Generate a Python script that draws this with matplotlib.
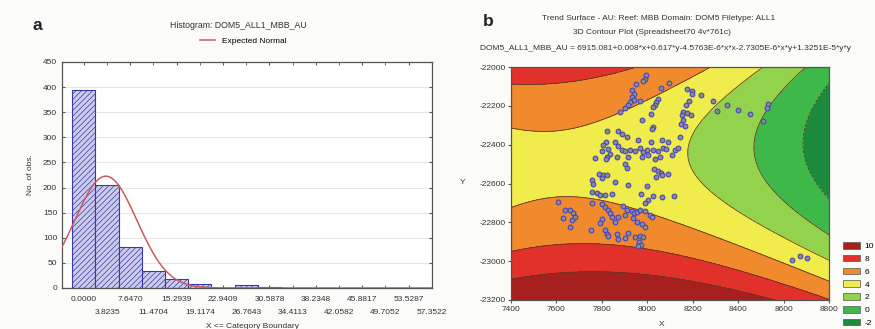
import numpy as np
import matplotlib
matplotlib.use("Agg")
from matplotlib import pyplot as plt
from matplotlib.patches import Patch

plt.rcParams['font.family'] = ['Liberation Sans', 'DejaVu Sans']
plt.rcParams['axes.unicode_minus'] = False
plt.rcParams['hatch.linewidth'] = 0.5


### histogram data (panel a)
bin_width = 3.8235
bin_labels = ['0.0000', '3.8235', '7.6470', '11.4704', '15.2939', '19.1174',
              '22.9409', '26.7643', '30.5878', '34.4113', '38.2348', '42.0582',
              '45.8817', '49.7052', '53.5287', '57.3522']
bin_counts = [394, 205, 81, 33, 18, 8, 0, 5, 2, 0, 0, 0, 0, 0, 0, 0]
normal_mean = 3.63
normal_sd = 5.11

### trend surface (panel b): quadratic in scaled x, y
trend_center = [8000.0, -22500.0, 1000.0]
# const, x, y, x*x, x*y, y*y
trend_coef = [2.85, -3.70, -1.11, -4.58, -2.73, 13.9]
contour_levels = [-2, 0, 2, 4, 6, 8]
legend_labels = ['10', '8', '6', '4', '2', '0', '-2']

### sample locations
pts_x = [7994, 7990, 7982, 7949, 8097, 8060, 7934, 7943, 7931, 7940, 7968, 7924,
         7917, 7902, 7880, 8046, 8038, 8034, 8027, 8016,
         8173, 8195, 8198, 8185, 8169, 8159, 8173, 8193, 8151, 8159, 8149, 8166,
         8237, 8288, 8307, 8350, 8400, 8452, 8533, 8526, 8508,
         7975, 8027, 8022, 7821, 7873, 7887, 7909, 7961, 8016, 8063, 8090, 8144,
         7817, 7807, 7858, 7870, 7826, 7799, 7836, 7821, 7817, 7770, 7865, 7887,
         7902, 7924, 7946, 7968, 7983, 7997, 8027, 8049, 8071, 8081, 8122, 8107,
         8137, 7917, 7975, 8005, 8034, 8056,
         7902, 7909, 8031, 8046, 8060, 8066, 8038, 8093, 7787, 7807, 7821, 7799,
         7758, 7763, 7858, 7917, 7997, 7755, 7777, 7792, 7814, 7846, 7972, 8027,
         8063, 8119, 8005, 7990, 7755, 7799, 7814, 7829, 7895, 7909, 7931, 7943,
         7953, 7968, 7990, 8012, 8022, 7836, 7843, 7799, 7792, 7873, 7902, 7858,
         7939, 7953, 7975, 7990, 7752, 7814, 7821, 7829, 7865, 7873, 7902, 7917,
         7968, 7983, 7964, 7972, 7958, 7946,
         7608, 7638, 7660, 7674, 7630, 7667, 7682, 7660,
         8636, 8673, 8702]
pts_y = [-22043, -22060, -22072, -22085, -22082, -22108, -22120, -22137, -22154, -22168, -22175, -22180,
         -22197, -22211, -22231, -22163, -22180, -22197, -22205, -22240,
         -22111, -22123, -22137, -22175, -22197, -22231, -22236, -22248, -22248, -22271, -22295, -22305,
         -22146, -22177, -22228, -22197, -22223, -22243, -22192, -22213, -22278,
         -22274, -22308, -22320, -22329, -22329, -22343, -22363, -22374, -22386, -22377, -22386, -22360,
         -22386, -22403, -22386, -22408, -22420, -22432, -22446, -22463, -22476, -22471, -22463, -22425,
         -22432, -22425, -22432, -22415, -22437, -22425, -22425, -22432, -22415, -22420, -22428, -22454,
         -22415, -22463, -22466, -22454, -22476, -22463,
         -22500, -22518, -22523, -22535, -22548, -22557, -22569, -22552, -22552, -22557, -22557, -22574,
         -22583, -22600, -22591, -22608, -22614, -22643, -22648, -22660, -22660, -22655, -22655, -22665,
         -22672, -22665, -22686, -22703, -22699, -22706, -22720, -22734, -22716, -22734, -22740, -22754,
         -22746, -22734, -22740, -22763, -22775, -22754, -22771, -22785, -22802, -22775, -22763, -22797,
         -22780, -22797, -22809, -22823, -22840, -22840, -22860, -22871, -22860, -22888, -22883, -22854,
         -22871, -22878, -22900, -22917, -22922, -22874,
         -22694, -22737, -22737, -22754, -22780, -22789, -22771, -22823,
         -22994, -22974, -22986]

band_colors = ['#1c8a3c', '#3fb84a', '#92d24c', '#efec4c', '#f08a2c', '#e2302a', '#a8201e']


fig = plt.figure(figsize=(8.75, 3.29), dpi=100)
fig.patch.set_facecolor('#fbfbf9')

W, H = 875.0, 329.0
def fx(px):
    return px / W
def fy(py):
    return 1 - py / H


# ---------------- panel a : histogram ----------------
ax1 = fig.add_axes([fx(62), fy(288), fx(432) - fx(62), fy(62) - fy(288)])
ax1.set_facecolor('white')
n_bins = len(bin_labels)
centers = np.arange(n_bins) * bin_width
ax1.bar(centers, bin_counts, width=bin_width, facecolor='#cbcbec', edgecolor='#3a3aa6',
        hatch='//////', linewidth=0.8, zorder=2)

xs = np.linspace(-4, 58, 400)
n_total = sum(bin_counts)
curve = n_total * bin_width / (normal_sd * np.sqrt(2 * np.pi)) * np.exp(-0.5 * ((xs - normal_mean) / normal_sd) ** 2)
ax1.plot(xs, curve, color='#d0585a', lw=1.1, zorder=3, label='Expected Normal')

ax1.set_xlim(-3.6, 57.4)
ax1.set_ylim(0, 450)
ax1.set_yticks(np.arange(0, 451, 50))
ax1.yaxis.grid(True, color='#e6e6e6', lw=0.8, zorder=0)
ax1.set_axisbelow(True)

ax1.set_xticks(centers[0::2], bin_labels[0::2])
ax1.set_xticks(centers[1::2], bin_labels[1::2], minor=True)
ax1.tick_params(axis='x', which='major', pad=5.5, labelsize=6, direction='in', length=2,
                top=True, color='#555555', labelcolor='#333333')
ax1.tick_params(axis='x', which='minor', pad=15, labelsize=6, direction='in', length=2,
                top=True, color='#555555', labelcolor='#333333')
ax1.tick_params(axis='y', labelsize=6, direction='in', length=2, right=True,
                color='#555555', labelcolor='#333333')
for s in ax1.spines.values():
    s.set_color('#555555')
    s.set_linewidth(0.9)

ax1.legend(loc='center', bbox_to_anchor=(0.49, 1.094), frameon=False, fontsize=6,
           handlelength=1.8, borderaxespad=0, borderpad=0)

fig.text(fx(238), fy(25), 'Histogram: DOM5_ALL1_MBB_AU', ha='center', va='center',
         fontsize=6.3, color='#333333')
fig.text(fx(30), fy(175), 'No. of obs.', rotation=90, ha='center', va='center',
         fontsize=6, color='#333333')
fig.text(fx(253), fy(327), 'X <= Category Boundary', ha='center', va='center',
         fontsize=6, color='#333333')
fig.text(fx(37), fy(26), 'a', ha='center', va='center', fontsize=12.5,
         fontweight='bold', color='#222222')


# ---------------- panel b : trend surface contour ----------------
ax2 = fig.add_axes([fx(511), fy(300), fx(829) - fx(511), fy(67) - fy(300)])
gx = np.linspace(7400, 8800, 300)
gy = np.linspace(-23200, -22000, 300)
GX, GY = np.meshgrid(gx, gy)
u = (GX - trend_center[0]) / trend_center[2]
v = (GY - trend_center[1]) / trend_center[2]
c = trend_coef
Z = c[0] + c[1] * u + c[2] * v + c[3] * u * u + c[4] * u * v + c[5] * v * v

fill_levels = [-100] + contour_levels + [100]
ax2.contourf(GX, GY, Z, levels=fill_levels, colors=band_colors)
ax2.contour(GX, GY, Z, levels=contour_levels, colors='#5a3c22', linewidths=0.6)

ax2.scatter(pts_x, pts_y, s=12, facecolor='#8c8c90', edgecolor='#3d3dc4', linewidth=0.7, zorder=4)

ax2.set_xlim(7400, 8800)
ax2.set_ylim(-23200, -22000)
ax2.set_xticks(np.arange(7400, 8801, 200))
ax2.set_yticks(np.arange(-23200, -21999, 200))
ax2.tick_params(labelsize=6, length=2, color='#555555', labelcolor='#333333', pad=2)
for s in ax2.spines.values():
    s.set_color('#555555')
    s.set_linewidth(0.9)

fig.text(fx(463), fy(183), 'Y', ha='center', va='center', fontsize=6, color='#333333')
fig.text(fx(662), fy(325), 'X', ha='center', va='center', fontsize=6, color='#333333')
fig.text(fx(659), fy(18), 'Trend Surface - AU: Reef: MBB Domain: DOM5 Filetype: ALL1',
         ha='center', va='center', fontsize=6, color='#333333')
fig.text(fx(652), fy(33), '3D Contour Plot (Spreadsheet70 4v*761c)',
         ha='center', va='center', fontsize=6, color='#333333')
fig.text(fx(665), fy(48),
         'DOM5_ALL1_MBB_AU = 6915.081+0.008*x+0.617*y-4.5763E-6*x*x-2.7305E-6*x*y+1.3251E-5*y*y',
         ha='center', va='center', fontsize=6, color='#333333')
fig.text(fx(488), fy(22), 'b', ha='center', va='center', fontsize=12.5,
         fontweight='bold', color='#222222')

handles = [Patch(facecolor=col, edgecolor='#555555', linewidth=0.5) for col in band_colors[::-1]]
fig.legend(handles, legend_labels, loc='upper left', bbox_to_anchor=(fx(843), fy(242)),
           frameon=False, fontsize=6, handlelength=2.0, handleheight=0.85,
           labelspacing=0.55, handletextpad=0.6, borderaxespad=0, borderpad=0)

fig.savefig('out.png', dpi=100, facecolor=fig.get_facecolor())
